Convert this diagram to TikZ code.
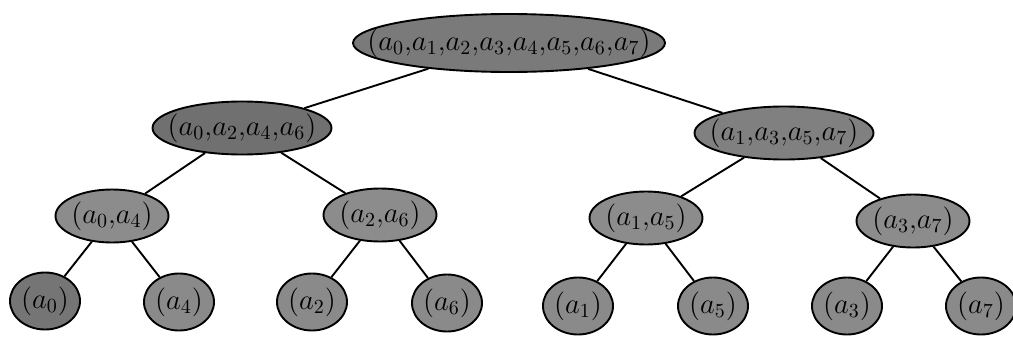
\documentclass[tikz,border=0pt]{standalone}
\usetikzlibrary{shapes.geometric}
\newcommand{\cm}{{,}}
\begin{document}
\begin{tikzpicture}[x=0.5pt,y=-0.5pt,
  ell/.style={ellipse, draw=black, line width=0.95pt, inner sep=0pt},
  lvlzero/.style={ell, fill=black!52, minimum width=156pt, minimum height=29pt},
  lvlone/.style={ell, fill=black!50, minimum width=89.5pt, minimum height=26.5pt},
  lvltwo/.style={ell, fill=black!45, minimum width=56.5pt, minimum height=26.5pt},
  lvlthree/.style={ell, fill=black!46, minimum width=35pt, minimum height=28.5pt},
  txt/.style={font=\Large},
  edge/.style={draw=black, line width=0.95pt}]
\useasboundingbox (0,0) rectangle (1013,338);
% level 0
\node[lvlzero, label={[txt]center:$(a_0\cm a_1\cm a_2\cm a_3\cm a_4\cm a_5\cm a_6\cm a_7)$}] (r) at (509,43) {};
% level 1
\node[lvlone, fill=black!56, label={[txt]center:$(a_0\cm a_2\cm a_4\cm a_6)$}] (l) at (242,128) {};
\node[lvlone, label={[txt]center:$(a_1\cm a_3\cm a_5\cm a_7)$}] (rr) at (784,133) {};
% level 2
\node[lvltwo, label={[txt]center:$(a_0\cm a_4)$}] (l04) at (112,216) {};
\node[lvltwo, label={[txt]center:$(a_2\cm a_6)$}] (l26) at (380,215) {};
\node[lvltwo, label={[txt]center:$(a_1\cm a_5)$}] (l15) at (646,218) {};
\node[lvltwo, label={[txt]center:$(a_3\cm a_7)$}] (l37) at (913,221) {};
% level 3
\node[lvlthree, fill=black!54, label={[txt]center:$(a_0)$}] (a0) at (45,301) {};
\node[lvlthree, label={[txt]center:$(a_4)$}] (a4) at (179,302) {};
\node[lvlthree, label={[txt]center:$(a_2)$}] (a2) at (312,302) {};
\node[lvlthree, label={[txt]center:$(a_6)$}] (a6) at (447,303) {};
\node[lvlthree, label={[txt]center:$(a_1)$}] (a1) at (578,306) {};
\node[lvlthree, label={[txt]center:$(a_5)$}] (a5) at (713,306) {};
\node[lvlthree, label={[txt]center:$(a_3)$}] (a3) at (847,306) {};
\node[lvlthree, label={[txt]center:$(a_7)$}] (a7) at (981,306) {};
% edges
\draw[edge] (r) -- (l);
\draw[edge] (r) -- (rr);
\draw[edge] (l) -- (l04);
\draw[edge] (l) -- (l26);
\draw[edge] (rr) -- (l15);
\draw[edge] (rr) -- (l37);
\draw[edge] (l04) -- (a0);
\draw[edge] (l04) -- (a4);
\draw[edge] (l26) -- (a2);
\draw[edge] (l26) -- (a6);
\draw[edge] (l15) -- (a1);
\draw[edge] (l15) -- (a5);
\draw[edge] (l37) -- (a3);
\draw[edge] (l37) -- (a7);
\end{tikzpicture}
\end{document}
